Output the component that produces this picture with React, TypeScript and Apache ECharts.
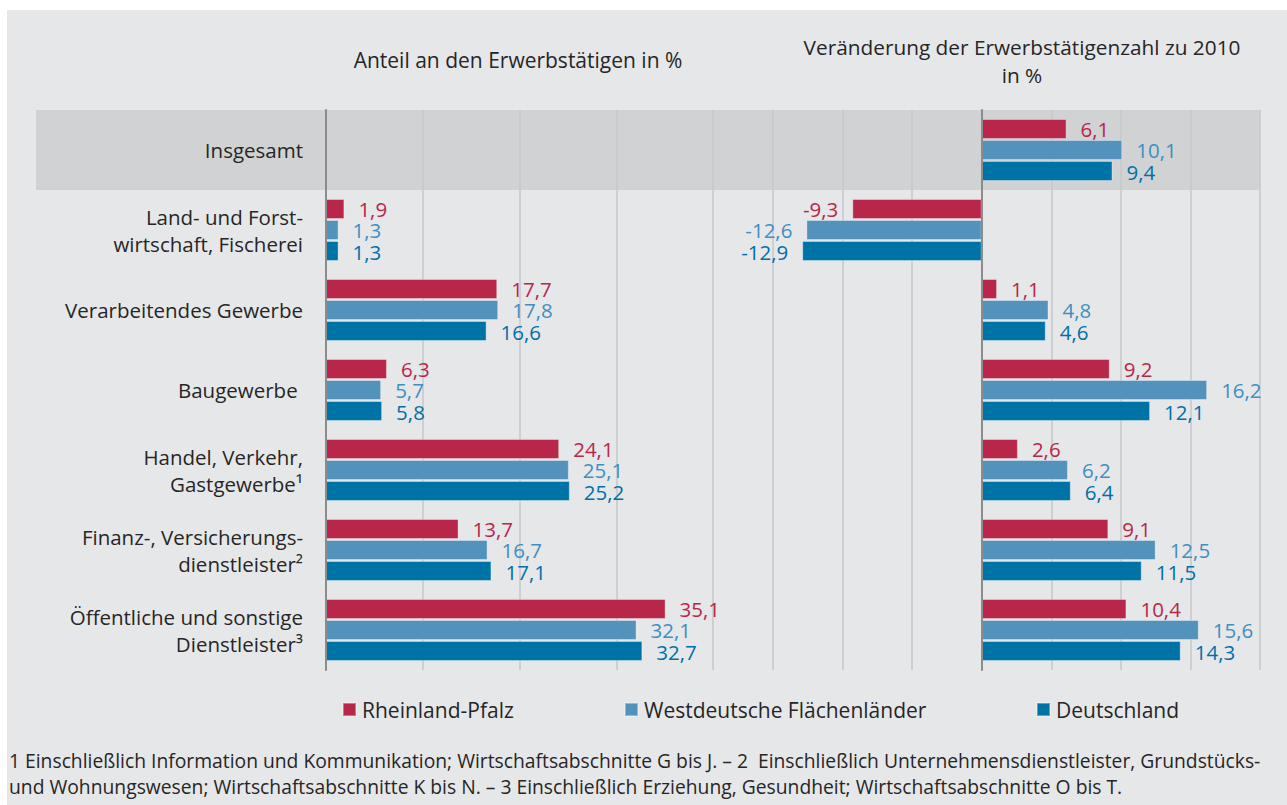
import React, { useEffect, useRef } from "react";
import * as echarts from "echarts";

const categories = [
  "Insgesamt",
  "Land- und Forst-\nwirtschaft, Fischerei",
  "Verarbeitendes Gewerbe",
  "Baugewerbe ",
  "Handel, Verkehr,\nGastgewerbe¹",
  "Finanz-, Versicherungs-\ndienstleister²",
  "Öffentliche und sonstige\nDienstleister³",
];

const seriesNames = ["Rheinland-Pfalz", "Westdeutsche Flächenländer", "Deutschland"];

const shareRP = [null, 1.9, 17.7, 6.3, 24.1, 13.7, 35.1];
const shareWest = [null, 1.3, 17.8, 5.7, 25.1, 16.7, 32.1];
const shareDE = [null, 1.3, 16.6, 5.8, 25.2, 17.1, 32.7];

const changeRP = [6.1, -9.3, 1.1, 9.2, 2.6, 9.1, 10.4];
const changeWest = [10.1, -12.6, 4.8, 16.2, 6.2, 12.5, 15.6];
const changeDE = [9.4, -12.9, 4.6, 12.1, 6.4, 11.5, 14.3];

const leftTitle = "Anteil an den Erwerbstätigen in %";
const rightTitle = "Veränderung der Erwerbstätigenzahl zu 2010\nin %";
const footnote1 =
  "1 Einschließlich Information und Kommunikation; Wirtschaftsabschnitte G bis J. – 2  Einschließlich Unternehmensdienstleister, Grundstücks-";
const footnote2 =
  "und Wohnungswesen; Wirtschaftsabschnitte K bis N. – 3 Einschließlich Erziehung, Gesundheit; Wirtschaftsabschnitte O bis T.";

const barColors = ["#b8274a", "#5393bb", "#0073a6"];
const labelColors = ["#b8274a", "#3f8fc1", "#0070a8"];
const FONT = "'Open Sans', 'Noto Sans', sans-serif";
const TXT = "#262626";

export default function App() {
  const ref = useRef<HTMLDivElement>(null);

  useEffect(() => {
    if (!ref.current) return;
    const chart = echarts.init(ref.current, null, { renderer: "svg" });

    const fmt = (p: any) => {
      const v = Array.isArray(p.value) ? p.value[0] : p.value;
      if (v === null || v === undefined || v === "-" || isNaN(Number(v))) return "";
      return Number(v).toFixed(1).replace(".", ",");
    };

    const mkData = (arr: (number | null)[]) =>
      arr.map((v) =>
        v === null
          ? { value: null }
          : { value: v, label: { position: v < 0 ? "left" : "right" } }
      );

    const mkSeries = (arr: (number | null)[], idx: number, gridIdx: number) => ({
      type: "bar",
      name: seriesNames[idx],
      xAxisIndex: gridIdx,
      yAxisIndex: gridIdx,
      data: mkData(arr),
      barWidth: 20,
      barGap: "5%",
      z: 3,
      itemStyle: {
        color: barColors[idx],
        borderColor: "rgba(255,255,255,0.35)",
        borderWidth: 1,
      },
      label: {
        show: true,
        distance: 14,
        color: labelColors[idx],
        fontSize: 20.5,
        fontFamily: FONT,
        formatter: fmt,
        offset: [0, idx === 2 ? 1 : 0],
      },
    });

    const valueAxisCommon = {
      type: "value",
      axisLabel: { show: false },
      axisLine: { show: false },
      axisTick: { show: false },
      splitLine: { show: true, lineStyle: { color: "#c6c7c9", width: 1.5 } },
    };

    const option: any = {
      animation: false,
      backgroundColor: "#ffffff",
      textStyle: { fontFamily: FONT },
      grid: [
        { left: 326, width: 387, top: 110, height: 560 },
        { left: 773, width: 487, top: 110, height: 560 },
      ],
      xAxis: [
        { ...valueAxisCommon, gridIndex: 0, min: 0, max: 40, interval: 10 },
        { ...valueAxisCommon, gridIndex: 1, min: -15, max: 20, interval: 5 },
      ],
      yAxis: [
        {
          type: "category",
          gridIndex: 0,
          data: categories,
          inverse: true,
          axisTick: { show: false },
          axisLine: { show: true, lineStyle: { color: "#8c8c8c", width: 2 } },
          axisLabel: {
            margin: 23,
            fontSize: 20.5,
            lineHeight: 27,
            color: TXT,
            fontFamily: FONT,
            align: "right",
          },
          z: 4,
        },
        {
          type: "category",
          gridIndex: 1,
          data: categories,
          inverse: true,
          axisTick: { show: false },
          axisLine: { show: true, onZero: true, lineStyle: { color: "#8c8c8c", width: 2 } },
          axisLabel: { show: false },
          z: 4,
        },
      ],
      legend: seriesNames.map((n, i) => ({
        data: [n],
        left: [342, 624, 1036][i],
        top: 699,
        icon: "rect",
        itemWidth: 13,
        itemHeight: 13,
        itemGap: 0,
        padding: 0,
        textStyle: { fontSize: 21, color: TXT, fontFamily: FONT, padding: [0, 0, 0, 1] },
        selectedMode: false,
      })),
      graphic: [
        {
          type: "rect",
          z: -20,
          silent: true,
          shape: { x: 7, y: 10, width: 1280, height: 795 },
          style: { fill: "#e6e7e9" },
        },
        {
          type: "rect",
          z: -10,
          silent: true,
          shape: { x: 36, y: 110, width: 1224, height: 80 },
          style: { fill: "#d1d2d4" },
        },
        {
          type: "text",
          x: 518,
          y: 60,
          style: {
            text: leftTitle,
            fontSize: 21,
            fontFamily: FONT,
            fill: TXT,
            textAlign: "center",
            textVerticalAlign: "middle",
          },
        },
        {
          type: "text",
          x: 1022,
          y: 61,
          style: {
            text: rightTitle,
            fontSize: 20.8,
            lineHeight: 28,
            fontFamily: FONT,
            fill: TXT,
            textAlign: "center",
            textVerticalAlign: "middle",
          },
        },
        {
          type: "text",
          x: 9,
          y: 760,
          style: {
            text: footnote1,
            fontSize: 19.3,
            fontFamily: FONT,
            fill: TXT,
            textVerticalAlign: "middle",
          },
        },
        {
          type: "text",
          x: 9,
          y: 786,
          style: {
            text: footnote2,
            fontSize: 19.3,
            fontFamily: FONT,
            fill: TXT,
            textVerticalAlign: "middle",
          },
        },
      ],
      series: [
        mkSeries(shareRP, 0, 0),
        mkSeries(shareWest, 1, 0),
        mkSeries(shareDE, 2, 0),
        mkSeries(changeRP, 0, 1),
        mkSeries(changeWest, 1, 1),
        mkSeries(changeDE, 2, 1),
      ],
    };

    chart.setOption(option);
    return () => chart.dispose();
  }, []);

  return (
    <div
      ref={ref}
      style={{ position: "absolute", left: 0, top: 0, width: 1287, height: 805 }}
    />
  );
}
